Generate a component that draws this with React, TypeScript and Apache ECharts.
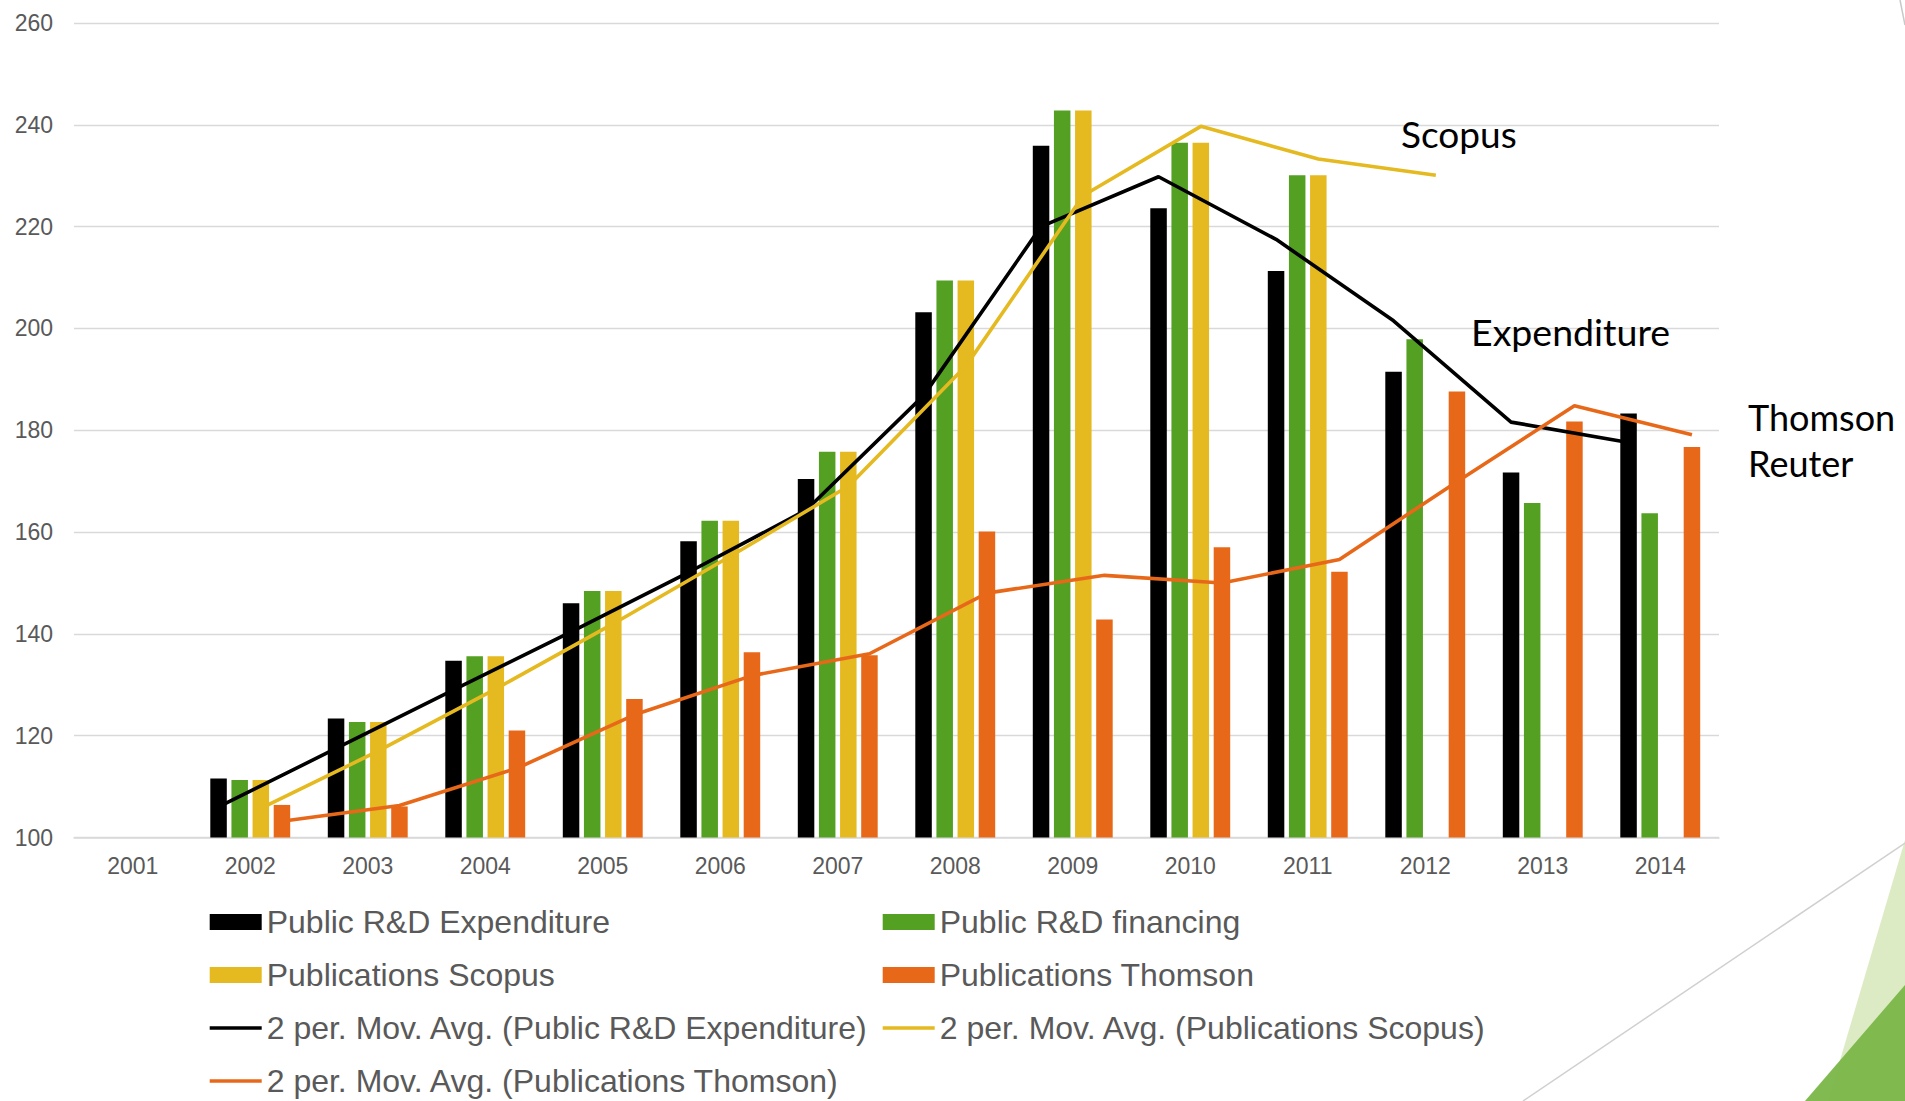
import React, { useEffect, useRef } from "react";
import * as echarts from "echarts";

const years = ["2001", "2002", "2003", "2004", "2005", "2006", "2007", "2008", "2009", "2010", "2011", "2012", "2013", "2014"];

const expenditure = [100, 111.6, 123.4, 134.7, 146.0, 158.2, 170.4, 203.2, 235.9, 223.6, 211.3, 191.5, 171.7, 183.3];
const financing = [100, 111.3, 122.7, 135.6, 148.4, 162.2, 175.8, 209.4, 242.8, 236.5, 230.1, 197.9, 165.7, 163.7];
const scopus = [100, 111.3, 122.7, 135.6, 148.4, 162.2, 175.8, 209.4, 242.8, 236.5, 230.1, null, null, null];
const thomson = [100, 106.4, 106.1, 121.0, 127.2, 136.4, 135.8, 160.1, 142.8, 157.0, 152.2, 187.6, 181.7, 176.7];

const maExpenditure = [null, 106.0, 117.5, 129.0, 140.4, 152.1, 164.3, 186.8, 220.0, 229.8, 217.5, 201.5, 181.6, 177.6];
const maScopus = [null, 105.7, 117.0, 129.2, 142.0, 155.3, 169.0, 192.6, 226.1, 239.7, 233.3, 230.1, null, null];
const maThomson = [null, 103.2, 106.3, 113.6, 124.1, 131.8, 136.1, 148.0, 151.5, 150.0, 154.6, 169.9, 184.8, 179.1];

const yTicks = { min: 100, max: 260, interval: 20 };

const names = {
  exp: "Public R&D Expenditure",
  fin: "Public R&D financing",
  sco: "Publications Scopus",
  tho: "Publications Thomson",
  maExp: "2 per. Mov. Avg. (Public R&D Expenditure)",
  maSco: "2 per. Mov. Avg. (Publications Scopus)",
  maTho: "2 per. Mov. Avg. (Publications Thomson)",
};

const colors = {
  exp: "#000000",
  fin: "#54A022",
  sco: "#E5B920",
  tho: "#E86819",
};

// bar layout (fractions of the category band)
const CAT_GAP = 0.32;
const BAR_GAP = 0.28;
const N_BARS = 4;
const barW = (1 - CAT_GAP) / (N_BARS + (N_BARS - 1) * BAR_GAP);
const pitch = barW * (1 + BAR_GAP);
const barOffset = (i: number) => -(1 - CAT_GAP) / 2 + barW / 2 + i * pitch;

const toLine = (arr: (number | null)[], barIndex: number) =>
  arr
    .map((v, i) => (v == null ? null : [i + barOffset(barIndex), v]))
    .filter((d) => d !== null);

const FONT = "'Liberation Sans', Arial, sans-serif";
const ANNOT_FONT = "Lato, 'Open Sans', sans-serif";
const GRAY = "#595959";
const LINE_W = 3.6;

export default function App() {
  const ref = useRef<HTMLDivElement>(null);

  useEffect(() => {
    if (!ref.current) return;
    const chart = echarts.init(ref.current, null, { renderer: "svg" });

    const barSeries = (name: string, data: (number | null)[], color: string) => ({
      type: "bar",
      name,
      data,
      xAxisIndex: 0,
      yAxisIndex: 0,
      barGap: `${BAR_GAP * 100}%`,
      barCategoryGap: `${CAT_GAP * 100}%`,
      itemStyle: { color },
      z: 2,
    });

    const lineSeries = (name: string, data: any[], color: string) => ({
      type: "line",
      name,
      data,
      xAxisIndex: 1,
      yAxisIndex: 0,
      symbol: "none",
      showSymbol: false,
      lineStyle: { color, width: LINE_W },
      itemStyle: { color },
      z: 3,
    });

    const ROW = 53;
    const TOP = 902;
    const legendCommon = {
      orient: "vertical",
      itemWidth: 52,
      itemHeight: 16,
      itemGap: ROW - 40,
      padding: 0,
      height: 400,
      selectedMode: false,
      lineStyle: { width: 3.4 },
      textStyle: { fontFamily: FONT, fontSize: 32, color: GRAY, lineHeight: 40 },
    };
    const lineItem = (name: string) => ({ name, itemStyle: { opacity: 0 } });

    chart.setOption({
      animation: false,
      backgroundColor: "#ffffff",
      grid: { left: 74, right: 186, top: 23, bottom: 263.5, containLabel: false },
      xAxis: [
        {
          type: "category",
          data: years,
          boundaryGap: true,
          axisTick: { show: false },
          axisLine: { show: true, lineStyle: { color: "#D9D9D9", width: 1.5 } },
          axisLabel: { fontFamily: FONT, fontSize: 23, color: GRAY, margin: 17 },
        },
        {
          type: "value",
          min: -0.5,
          max: years.length - 0.5,
          show: false,
        },
      ],
      yAxis: {
        type: "value",
        min: yTicks.min,
        max: yTicks.max,
        interval: yTicks.interval,
        axisLine: { show: false },
        axisTick: { show: false },
        axisLabel: { fontFamily: FONT, fontSize: 23, color: GRAY, margin: 21 },
        splitLine: { lineStyle: { color: "#D9D9D9", width: 1.3 } },
      },
      legend: [
        {
          ...legendCommon,
          left: 208,
          top: TOP,
          data: [
            { name: names.exp, icon: "rect" },
            { name: names.sco, icon: "rect" },
            lineItem(names.maExp),
          ],
        },
        {
          ...legendCommon,
          left: 881,
          top: TOP,
          data: [
            { name: names.fin, icon: "rect" },
            { name: names.tho, icon: "rect" },
            lineItem(names.maSco),
          ],
        },
        {
          ...legendCommon,
          left: 208,
          top: TOP + 3 * ROW,
          height: 60,
          data: [lineItem(names.maTho)],
        },
      ],
      series: [
        barSeries(names.exp, expenditure, colors.exp),
        barSeries(names.fin, financing, colors.fin),
        barSeries(names.sco, scopus, colors.sco),
        barSeries(names.tho, thomson, colors.tho),
        lineSeries(names.maExp, toLine(maExpenditure, 0), colors.exp),
        lineSeries(names.maSco, toLine(maScopus, 2), colors.sco),
        lineSeries(names.maTho, toLine(maThomson, 3), colors.tho),
      ],
      graphic: [
        {
          type: "polygon",
          silent: true,
          z: 0,
          shape: { points: [[1905, 840], [1828, 1101], [1905, 1101]] },
          style: { fill: "#DDEBC4" },
        },
        {
          type: "polygon",
          silent: true,
          z: 1,
          shape: { points: [[1905, 985], [1805, 1101], [1905, 1101]] },
          style: { fill: "#7AB648", opacity: 0.95 },
        },
        {
          type: "line",
          silent: true,
          z: 1,
          shape: { x1: 1523, y1: 1101, x2: 1905, y2: 843 },
          style: { stroke: "#D0D0D0", lineWidth: 1.5 },
        },
        {
          type: "line",
          silent: true,
          z: 1,
          shape: { x1: 1900, y1: 0, x2: 1905, y2: 25 },
          style: { stroke: "#C8C8C8", lineWidth: 1.5 },
        },
        {
          type: "text",
          silent: true,
          z: 10,
          style: { text: "Scopus", x: 1401, y: 133, fontFamily: ANNOT_FONT, fontSize: 37, fill: "#000", verticalAlign: "middle" },
        },
        {
          type: "text",
          silent: true,
          z: 10,
          style: { text: "Expenditure", x: 1471, y: 331, fontFamily: ANNOT_FONT, fontSize: 37.5, fill: "#000", verticalAlign: "middle" },
        },
        {
          type: "text",
          silent: true,
          z: 10,
          style: { text: "Thomson", x: 1748, y: 416.5, fontFamily: ANNOT_FONT, fontSize: 36, fill: "#000", verticalAlign: "middle" },
        },
        {
          type: "text",
          silent: true,
          z: 10,
          style: { text: "Reuter", x: 1748, y: 462.5, fontFamily: ANNOT_FONT, fontSize: 36, fill: "#000", verticalAlign: "middle" },
        },
      ],
    });

    return () => chart.dispose();
  }, []);

  return (
    <div
      ref={ref}
      style={{ position: "fixed", left: 0, top: 0, width: 1905, height: 1101, background: "#fff" }}
    />
  );
}
